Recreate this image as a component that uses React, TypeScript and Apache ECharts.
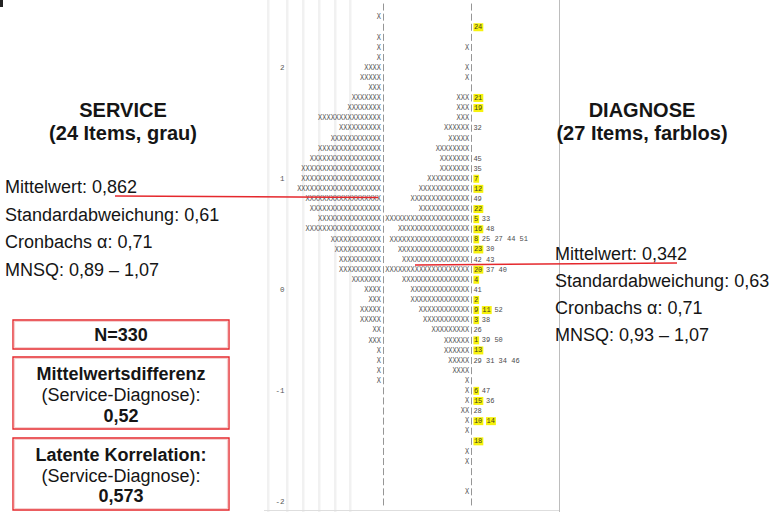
import React, { useEffect, useRef } from "react";
import * as echarts from "echarts";

// ---- data (one entry per map row, top = highest logit) ----
const logitLabels: string[] = [
  "", "", "", "", "", "", "2", "", "", "",
  "", "", "", "", "", "", "", "1", "", "",
  "", "", "", "", "", "", "", "", "0", "",
  "", "", "", "", "", "", "", "", "-1", "",
  "", "", "", "", "", "", "", "", "", "-2",
];
// number of "X" (persons) per row, Service dimension
const serviceCounts: number[] = [
  0, 1, 0, 1, 1, 1, 4, 5, 3, 7,
  8, 15, 10, 12, 15, 17, 19, 19, 20, 18,
  17, 15, 18, 12, 11, 10, 10, 7, 4, 3,
  5, 5, 2, 3, 1, 1, 1, 1, 0, 0,
  0, 0, 0, 0, 0, 0, 0, 0, 0, 0,
];
// number of "X" (persons) per row, Diagnose dimension
const diagnoseCounts: number[] = [
  0, 0, 0, 0, 1, 0, 1, 1, 0, 3,
  3, 3, 6, 5, 8, 7, 7, 10, 12, 14,
  12, 20, 17, 19, 17, 16, 20, 16, 14, 14,
  12, 11, 9, 6, 6, 5, 4, 1, 1, 1,
  2, 1, 1, 0, 1, 1, 0, 0, 1, 0,
];
// Service items (highlighted yellow) per row
const serviceItems: string[] = [
  "", "", "24", "", "", "", "", "", "", "21",
  "19", "", "", "", "", "", "", "7", "12", "",
  "22", "5", "16", "8", "23", "", "20", "4", "", "2",
  "9 11", "3", "", "1", "13", "", "", "", "6", "15",
  "", "10 14", "", "18", "", "", "", "", "", "",
];
// Diagnose items (no colour) per row
const diagnoseItems: string[] = [
  "", "", "", "", "", "", "", "", "", "",
  "", "", "32", "", "", "45", "35", "", "", "49",
  "", "33", "48", "25 27 44 51", "30", "42 43", "37 40", "", "41", "",
  "52", "38", "26", "39 50", "", "29 31 34 46", "", "", "47", "36",
  "28", "", "", "", "", "", "", "", "", "",
];

const serviceStats = ["Mittelwert: 0,862", "Standardabweichung: 0,61", "Cronbachs \u03b1: 0,71", "MNSQ: 0,89 \u2013 1,07"];
const diagnoseStats = ["Mittelwert: 0,342", "Standardabweichung: 0,63", "Cronbachs \u03b1: 0,71", "MNSQ: 0,93 \u2013 1,07"];

// ---- layout ----
const MONO = '7px "Liberation Mono", "DejaVu Sans Mono", monospace';
const SANS = '"Liberation Sans", Arial, sans-serif';
const COL_PIPE_S = 22;
const COL_PIPE_D = 43;
const COL_ITEMS = 44;
const CHAR_W = 4.2;
const X_GRAY = "#585858";
const PIPE_GRAY = "#8a8a8a";
const RED = "#e5282d";

function txt(x: number, y: number, text: string, font: string, align = "left", fill = "#151515") {
  return {
    type: "text",
    x,
    y,
    z: 50,
    style: { text, font, fill, align, textAlign: align, verticalAlign: "middle", textVerticalAlign: "middle" },
  };
}

function box(x: number, y: number, w: number, h: number) {
  return [
    { type: "rect", z: 40, shape: { x, y, width: w, height: h }, style: { fill: "#fff", stroke: RED, lineWidth: 1.4 } },
    { type: "rect", z: 41, shape: { x: x + 1.5, y: y + 1.5, width: w - 3, height: h - 3 }, style: { fill: "none", stroke: "#f6d0d0", lineWidth: 1.2 } },
  ];
}

export default function App() {
  const ref = useRef<HTMLDivElement>(null);
  useEffect(() => {
    if (!ref.current) return;
    const chart = echarts.init(ref.current, null, { renderer: "svg" });
    const rowIds = logitLabels.map((_, i) => String(i));

    const stripes = [267, 286, 302, 318, 334, 349].map((x) => ({
      type: "rect",
      z: 0,
      shape: { x, y: 0, width: 2.5, height: 512 },
      style: { fill: "#f1f1f1" },
    }));

    const graphics: any[] = [
      { type: "rect", z: 0, shape: { x: 0, y: 0, width: 3, height: 7 }, style: { fill: "#222" } },
      ...stripes,
      { type: "line", z: 1, shape: { x1: 559.5, y1: 0, x2: 559.5, y2: 512 }, style: { stroke: "#bdbdbd", lineWidth: 1 } },
      { type: "line", z: 1, shape: { x1: 264, y1: 510.5, x2: 559, y2: 510.5 }, style: { stroke: "#dedede", lineWidth: 1 } },
      txt(123, 110, "SERVICE", `bold 20px ${SANS}`, "center"),
      txt(123, 133, "(24 Items, grau)", `bold 20px ${SANS}`, "center"),
      txt(642, 110, "DIAGNOSE", `bold 20px ${SANS}`, "center"),
      txt(642, 133, "(27 Items, farblos)", `bold 20px ${SANS}`, "center"),
      ...serviceStats.map((s, i) => txt(5, 187 + i * 27.5, s, `18px ${SANS}`)),
      ...diagnoseStats.map((s, i) => txt(555, 254 + i * 27, s, `18px ${SANS}`)),
      { type: "line", z: 100, shape: { x1: 115, y1: 196, x2: 378, y2: 197.5 }, style: { stroke: RED, lineWidth: 1.5 } },
      { type: "line", z: 100, shape: { x1: 415, y1: 265, x2: 677, y2: 263 }, style: { stroke: RED, lineWidth: 1.5 } },
      ...box(13, 320, 216, 29),
      txt(121, 335, "N=330", `bold 18px ${SANS}`, "center"),
      ...box(13, 357, 216, 72),
      txt(121, 374, "Mittelwertsdifferenz", `bold 18px ${SANS}`, "center"),
      txt(121, 395, "(Service-Diagnose):", `18px ${SANS}`, "center"),
      txt(121, 416, "0,52", `bold 18px ${SANS}`, "center"),
      ...box(13, 438, 216, 72),
      txt(121, 455, "Latente Korrelation:", `bold 18px ${SANS}`, "center"),
      txt(121, 476, "(Service-Diagnose):", `18px ${SANS}`, "center"),
      txt(121, 496, "0,573", `bold 18px ${SANS}`, "center"),
    ];

    const monoStyle = (text: string, align: string, fill = X_GRAY) => ({
      text,
      font: MONO,
      fill,
      align,
      textAlign: align,
      verticalAlign: "middle",
      textVerticalAlign: "middle",
    });

    chart.setOption({
      animation: false,
      backgroundColor: "#ffffff",
      grid: { left: 288.6, top: 2, width: 260.4, height: 505 },
      xAxis: { type: "value", min: 0, max: 62, show: false },
      yAxis: {
        type: "category",
        inverse: true,
        data: rowIds,
        axisLine: { show: false },
        axisTick: { show: false },
        splitLine: { show: false },
        axisLabel: {
          interval: 0,
          margin: 4,
          fontFamily: '"Liberation Mono", monospace',
          fontSize: 7.5,
          color: "#555",
          formatter: (_v: string, idx: number) => logitLabels[idx],
        },
      },
      graphic: { elements: graphics },
      series: [
        {
          type: "custom",
          coordinateSystem: "cartesian2d",
          clip: false,
          silent: true,
          z: 10,
          encode: { x: 0, y: 1 },
          data: logitLabels.map((_, i) => [0, i]),
          renderItem: (params: any, api: any) => {
            const i = params.dataIndex;
            const row = api.value(1);
            const y = api.coord([0, row])[1];
            const xAt = (c: number) => api.coord([c, row])[0];
            const kids: any[] = [];
            const nS = serviceCounts[i];
            const nD = diagnoseCounts[i];
            const pipe = (c: number) => {
              const px = Math.round(xAt(c) + CHAR_W / 2) + 0.5;
              return {
                type: "line",
                shape: { x1: px, y1: y - 3.5, x2: px, y2: y + 3.5 },
                style: { stroke: PIPE_GRAY, lineWidth: 0.9 },
              };
            };
            if (nS > 0)
              kids.push({ type: "text", x: xAt(COL_PIPE_S), y, scaleY: 1.2, style: monoStyle("X".repeat(nS), "right") });
            kids.push(pipe(COL_PIPE_S));
            if (nD > 0)
              kids.push({ type: "text", x: xAt(COL_PIPE_D), y, scaleY: 1.2, style: monoStyle("X".repeat(nD), "right") });
            kids.push(pipe(COL_PIPE_D));
            let off = 0;
            const sItems = serviceItems[i] ? serviceItems[i].split(" ") : [];
            const dItems = diagnoseItems[i] ? diagnoseItems[i].split(" ") : [];
            sItems.forEach((it) => {
              kids.push({
                type: "text",
                x: xAt(COL_ITEMS + off),
                y,
                style: { ...monoStyle(it, "left", "#3f3f20"), backgroundColor: "#f7f20c", padding: [1, 1, 0, 0.5] },
              });
              off += it.length + 1;
            });
            dItems.forEach((it) => {
              kids.push({ type: "text", x: xAt(COL_ITEMS + off), y, style: monoStyle(it, "left", "#4a4a4a") });
              off += it.length + 1;
            });
            return { type: "group", children: kids };
          },
        },
      ],
    });
    return () => chart.dispose();
  }, []);
  return <div ref={ref} style={{ position: "fixed", left: 0, top: 0, width: 776, height: 512 }} />;
}
